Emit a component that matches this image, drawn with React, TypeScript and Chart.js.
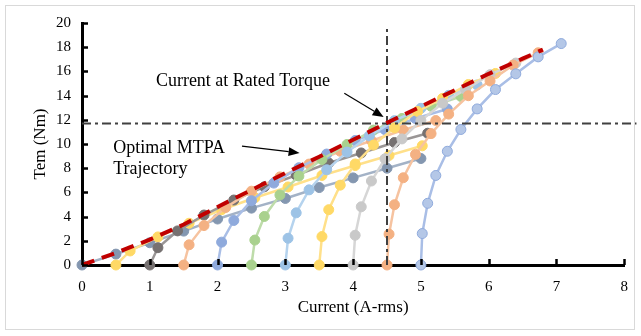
import React, { useEffect, useRef } from "react";
import { Chart, registerables } from "chart.js";

Chart.register(...registerables);

// ---- Data (Current A-rms, Torque Nm) for each constant-id curve ----
const cur_id0 = [0, 0.5, 1, 1.5, 2, 2.5, 3, 3.5, 4, 4.5, 5];
const tem_id0 = [0, 0.9, 1.84, 2.8, 3.8, 4.7, 5.5, 6.4, 7.2, 8.0, 8.8];
const cur_id05 = [0.5, 0.71, 1.12, 1.58, 2.06, 2.55, 3.04, 3.54, 4.03, 4.53, 5.02];
const tem_id05 = [0, 1.16, 2.32, 3.45, 4.57, 5.56, 6.45, 7.4, 8.22, 9.05, 9.85];
const cur_id10 = [1, 1.12, 1.41, 1.8, 2.24, 2.69, 3.16, 3.64, 4.12, 4.61, 5.1];
const tem_id10 = [0, 1.43, 2.82, 4.13, 5.37, 6.46, 7.42, 8.43, 9.26, 10.12, 10.89];
const cur_id15 = [1.5, 1.58, 1.8, 2.12, 2.5, 2.92, 3.35, 3.81, 4.27, 4.74, 5.22];
const tem_id15 = [0, 1.67, 3.26, 4.75, 6.1, 7.28, 8.34, 9.4, 10.27, 11.16, 11.94];
const cur_id20 = [2, 2.06, 2.24, 2.5, 2.83, 3.2, 3.61, 4.03, 4.47, 4.92, 5.39];
const tem_id20 = [0, 1.89, 3.68, 5.31, 6.77, 8.04, 9.17, 10.29, 11.19, 12.11, 12.89];
const cur_id25 = [2.5, 2.55, 2.69, 2.92, 3.2, 3.54, 3.91, 4.3, 4.72, 5.15, 5.59];
const tem_id25 = [0, 2.06, 4.01, 5.79, 7.35, 8.72, 9.96, 11.15, 12.11, 13.12, 13.93];
const cur_id30 = [3, 3.04, 3.16, 3.35, 3.61, 3.91, 4.24, 4.61, 5, 5.41, 5.83];
const tem_id30 = [0, 2.21, 4.31, 6.21, 7.87, 9.33, 10.67, 11.93, 12.95, 14.02, 14.88];
const cur_id35 = [3.5, 3.54, 3.64, 3.81, 4.03, 4.3, 4.61, 4.95, 5.32, 5.7, 6.1];
const tem_id35 = [0, 2.35, 4.57, 6.6, 8.35, 9.91, 11.34, 12.69, 13.77, 14.92, 15.83];
const cur_id40 = [4, 4.03, 4.12, 4.27, 4.47, 4.72, 5, 5.32, 5.66, 6.02, 6.4];
const tem_id40 = [0, 2.46, 4.81, 6.94, 8.78, 10.42, 11.94, 13.37, 14.51, 15.73, 16.69];
const cur_id45 = [4.5, 4.53, 4.61, 4.74, 4.92, 5.15, 5.41, 5.7, 6.02, 6.36, 6.73];
const tem_id45 = [0, 2.55, 4.98, 7.21, 9.14, 10.86, 12.47, 13.99, 15.21, 16.52, 17.54];
const cur_id50 = [5, 5.02, 5.1, 5.22, 5.39, 5.59, 5.83, 6.1, 6.4, 6.73, 7.07];
const tem_id50 = [0, 2.6, 5.1, 7.4, 9.4, 11.2, 12.9, 14.5, 15.8, 17.2, 18.3];

// Optimal MTPA trajectory
const mtpaCurrent = [0, 0.5, 1, 1.5, 2, 2.5, 3, 3.5, 4, 4.5, 5, 5.5, 6, 6.5, 6.8];
const mtpaTorque = [0, 1.0, 2.1, 3.35, 4.8, 6.2, 7.6, 8.95, 10.35, 11.75, 13.1, 14.45, 15.8, 17.05, 17.8];

// Rated operating point
const ratedCurrent = 4.5;
const ratedTorque = 11.7;

// Axis ticks
const xTicks = [0, 1, 2, 3, 4, 5, 6, 7, 8];
const yTicks = [0, 2, 4, 6, 8, 10, 12, 14, 16, 18, 20];

const seriesCurrents = [cur_id0, cur_id05, cur_id10, cur_id15, cur_id20, cur_id25, cur_id30, cur_id35, cur_id40, cur_id45, cur_id50];
const seriesTorques = [tem_id0, tem_id05, tem_id10, tem_id15, tem_id20, tem_id25, tem_id30, tem_id35, tem_id40, tem_id45, tem_id50];
const seriesFill = ["#8497B0", "#FFD966", "#767171", "#F4B183", "#8FAADC", "#A9D18E", "#9DC3E6", "#FFD966", "#C9C9C9", "#F4B183", "#B4C7E7"];
const seriesEdge = ["#8497B0", "#FFD966", "#767171", "#F4B183", "#8FAADC", "#A9D18E", "#9DC3E6", "#FFD966", "#C9C9C9", "#F4B183", "#8FAADC"];
const seriesLine = ["#A3B2C6", "#FFE08A", "#9A9696", "#F6C3A0", "#A9BEE6", "#BEDCAA", "#B5D3EE", "#FFE08A", "#D6D6D6", "#F6C3A0", "#A9BEE6"];

const FONT = "'Liberation Serif', 'Times New Roman', serif";

const overlayPlugin = {
  id: "overlay",
  afterDatasetsDraw(chart: any) {
    const { ctx, scales, chartArea } = chart;
    const x = scales.x;
    const y = scales.y;
    ctx.save();
    // inward tick marks
    ctx.strokeStyle = "#000";
    ctx.lineWidth = 2.5;
    ctx.beginPath();
    for (const v of yTicks) {
      const py = Math.round(y.getPixelForValue(v)) + 0.5;
      ctx.moveTo(chartArea.left, py);
      ctx.lineTo(chartArea.left + 6, py);
    }
    for (const v of xTicks) {
      const px = Math.round(x.getPixelForValue(v)) + 0.5;
      ctx.moveTo(px, chartArea.bottom);
      ctx.lineTo(px, chartArea.bottom - 6);
    }
    ctx.stroke();

    // annotation text
    ctx.fillStyle = "#000";
    ctx.font = "18px " + FONT;
    ctx.textBaseline = "middle";
    ctx.textAlign = "left";
    ctx.fillText("Current at Rated Torque", x.getPixelForValue(1.09), y.getPixelForValue(15.2));
    ctx.fillText("Optimal MTPA", x.getPixelForValue(0.46), y.getPixelForValue(9.67));
    ctx.fillText("Trajectory", x.getPixelForValue(0.46), y.getPixelForValue(7.93));

    const arrow = (x1: number, y1: number, x2: number, y2: number) => {
      const px1 = x.getPixelForValue(x1), py1 = y.getPixelForValue(y1);
      const px2 = x.getPixelForValue(x2), py2 = y.getPixelForValue(y2);
      const ang = Math.atan2(py2 - py1, px2 - px1);
      const len = 11, half = 4.5;
      const bx = px2 - len * Math.cos(ang), by = py2 - len * Math.sin(ang);
      ctx.strokeStyle = "#000";
      ctx.lineWidth = 1.2;
      ctx.beginPath();
      ctx.moveTo(px1, py1);
      ctx.lineTo(bx, by);
      ctx.stroke();
      ctx.beginPath();
      ctx.moveTo(px2, py2);
      ctx.lineTo(bx + half * Math.sin(ang), by - half * Math.cos(ang));
      ctx.lineTo(bx - half * Math.sin(ang), by + half * Math.cos(ang));
      ctx.closePath();
      ctx.fill();
    };
    arrow(3.87, 14.2, 4.45, 12.23);
    arrow(2.36, 9.83, 3.21, 9.26);
    ctx.restore();
  },
};

export default function App() {
  const ref = useRef<HTMLCanvasElement | null>(null);
  useEffect(() => {
    if (!ref.current) return;
    const datasets: any[] = [];
    datasets.push({
      label: "MTPA",
      data: mtpaCurrent.map((c, i) => ({ x: c, y: mtpaTorque[i] })),
      borderColor: "#C00000",
      borderWidth: 4,
      borderDash: [13, 8],
      pointRadius: 0,
      showLine: true,
      fill: false,
      clip: false,
      order: 0,
    });
    datasets.push({
      label: "rated-h",
      data: [{ x: 0, y: ratedTorque }, { x: 8.18, y: ratedTorque }],
      borderColor: "#404040",
      borderWidth: 2,
      borderDash: [9, 4, 3, 4],
      pointRadius: 0,
      showLine: true,
      clip: false,
      order: 1,
    });
    datasets.push({
      label: "rated-v",
      data: [{ x: ratedCurrent, y: 0 }, { x: ratedCurrent, y: 19.6 }],
      borderColor: "#404040",
      borderWidth: 2,
      borderDash: [9, 4, 3, 4],
      pointRadius: 0,
      showLine: true,
      order: 1,
    });
    seriesCurrents.forEach((cs, k) => {
      datasets.push({
        label: "id" + k,
        data: cs.map((c, i) => ({ x: c, y: seriesTorques[k][i] })),
        borderColor: seriesLine[k],
        borderWidth: 2.5,
        pointRadius: 5,
        pointBorderWidth: 1,
        pointBackgroundColor: seriesFill[k],
        pointBorderColor: seriesEdge[k],
        showLine: true,
        tension: 0,
        clip: false,
        order: 100 - k,
      });
    });

    const chart = new Chart(ref.current, {
      type: "scatter",
      data: { datasets },
      options: {
        animation: false,
        responsive: false,
        maintainAspectRatio: false,
        devicePixelRatio: 1,
        layout: { padding: { left: 0, right: 16, top: 23, bottom: 0 } },
        plugins: { legend: { display: false }, tooltip: { enabled: false } },
        scales: {
          x: {
            type: "linear",
            min: 0,
            max: 8,
            afterBuildTicks: (s: any) => { s.ticks = xTicks.map((v) => ({ value: v })); },
            afterFit: (s: any) => { s.height = 71; },
            ticks: { color: "#000", font: { family: FONT, size: 15 }, padding: 13 },
            grid: { display: false, drawTicks: false },
            border: { display: true, color: "#000", width: 3 },
            title: { display: true, text: "Current (A-rms)", color: "#000", font: { family: FONT, size: 17 }, padding: { top: 0, bottom: 18 } },
          },
          y: {
            type: "linear",
            min: 0,
            max: 20,
            afterBuildTicks: (s: any) => { s.ticks = yTicks.map((v) => ({ value: v })); },
            afterFit: (s: any) => { s.width = 82; },
            ticks: { color: "#000", font: { family: FONT, size: 15 }, padding: 11 },
            grid: { display: false, drawTicks: false },
            border: { display: true, color: "#000", width: 3 },
            title: { display: true, text: "Tem (Nm)", color: "#000", font: { family: FONT, size: 17 }, padding: { top: 30, bottom: 0 } },
          },
        },
      } as any,
      plugins: [overlayPlugin],
    });
    return () => chart.destroy();
  }, []);

  return (
    <div style={{ position: "fixed", left: 0, top: 0, width: 641, height: 336, background: "#fff" }}>
      <div style={{ position: "absolute", left: 5, top: 5, width: 630, height: 325, border: "1px solid #D9D9D9", boxSizing: "border-box" }} />
      <canvas ref={ref} width={641} height={336} style={{ position: "absolute", left: 0, top: 0, width: 641, height: 336 }} />
    </div>
  );
}
